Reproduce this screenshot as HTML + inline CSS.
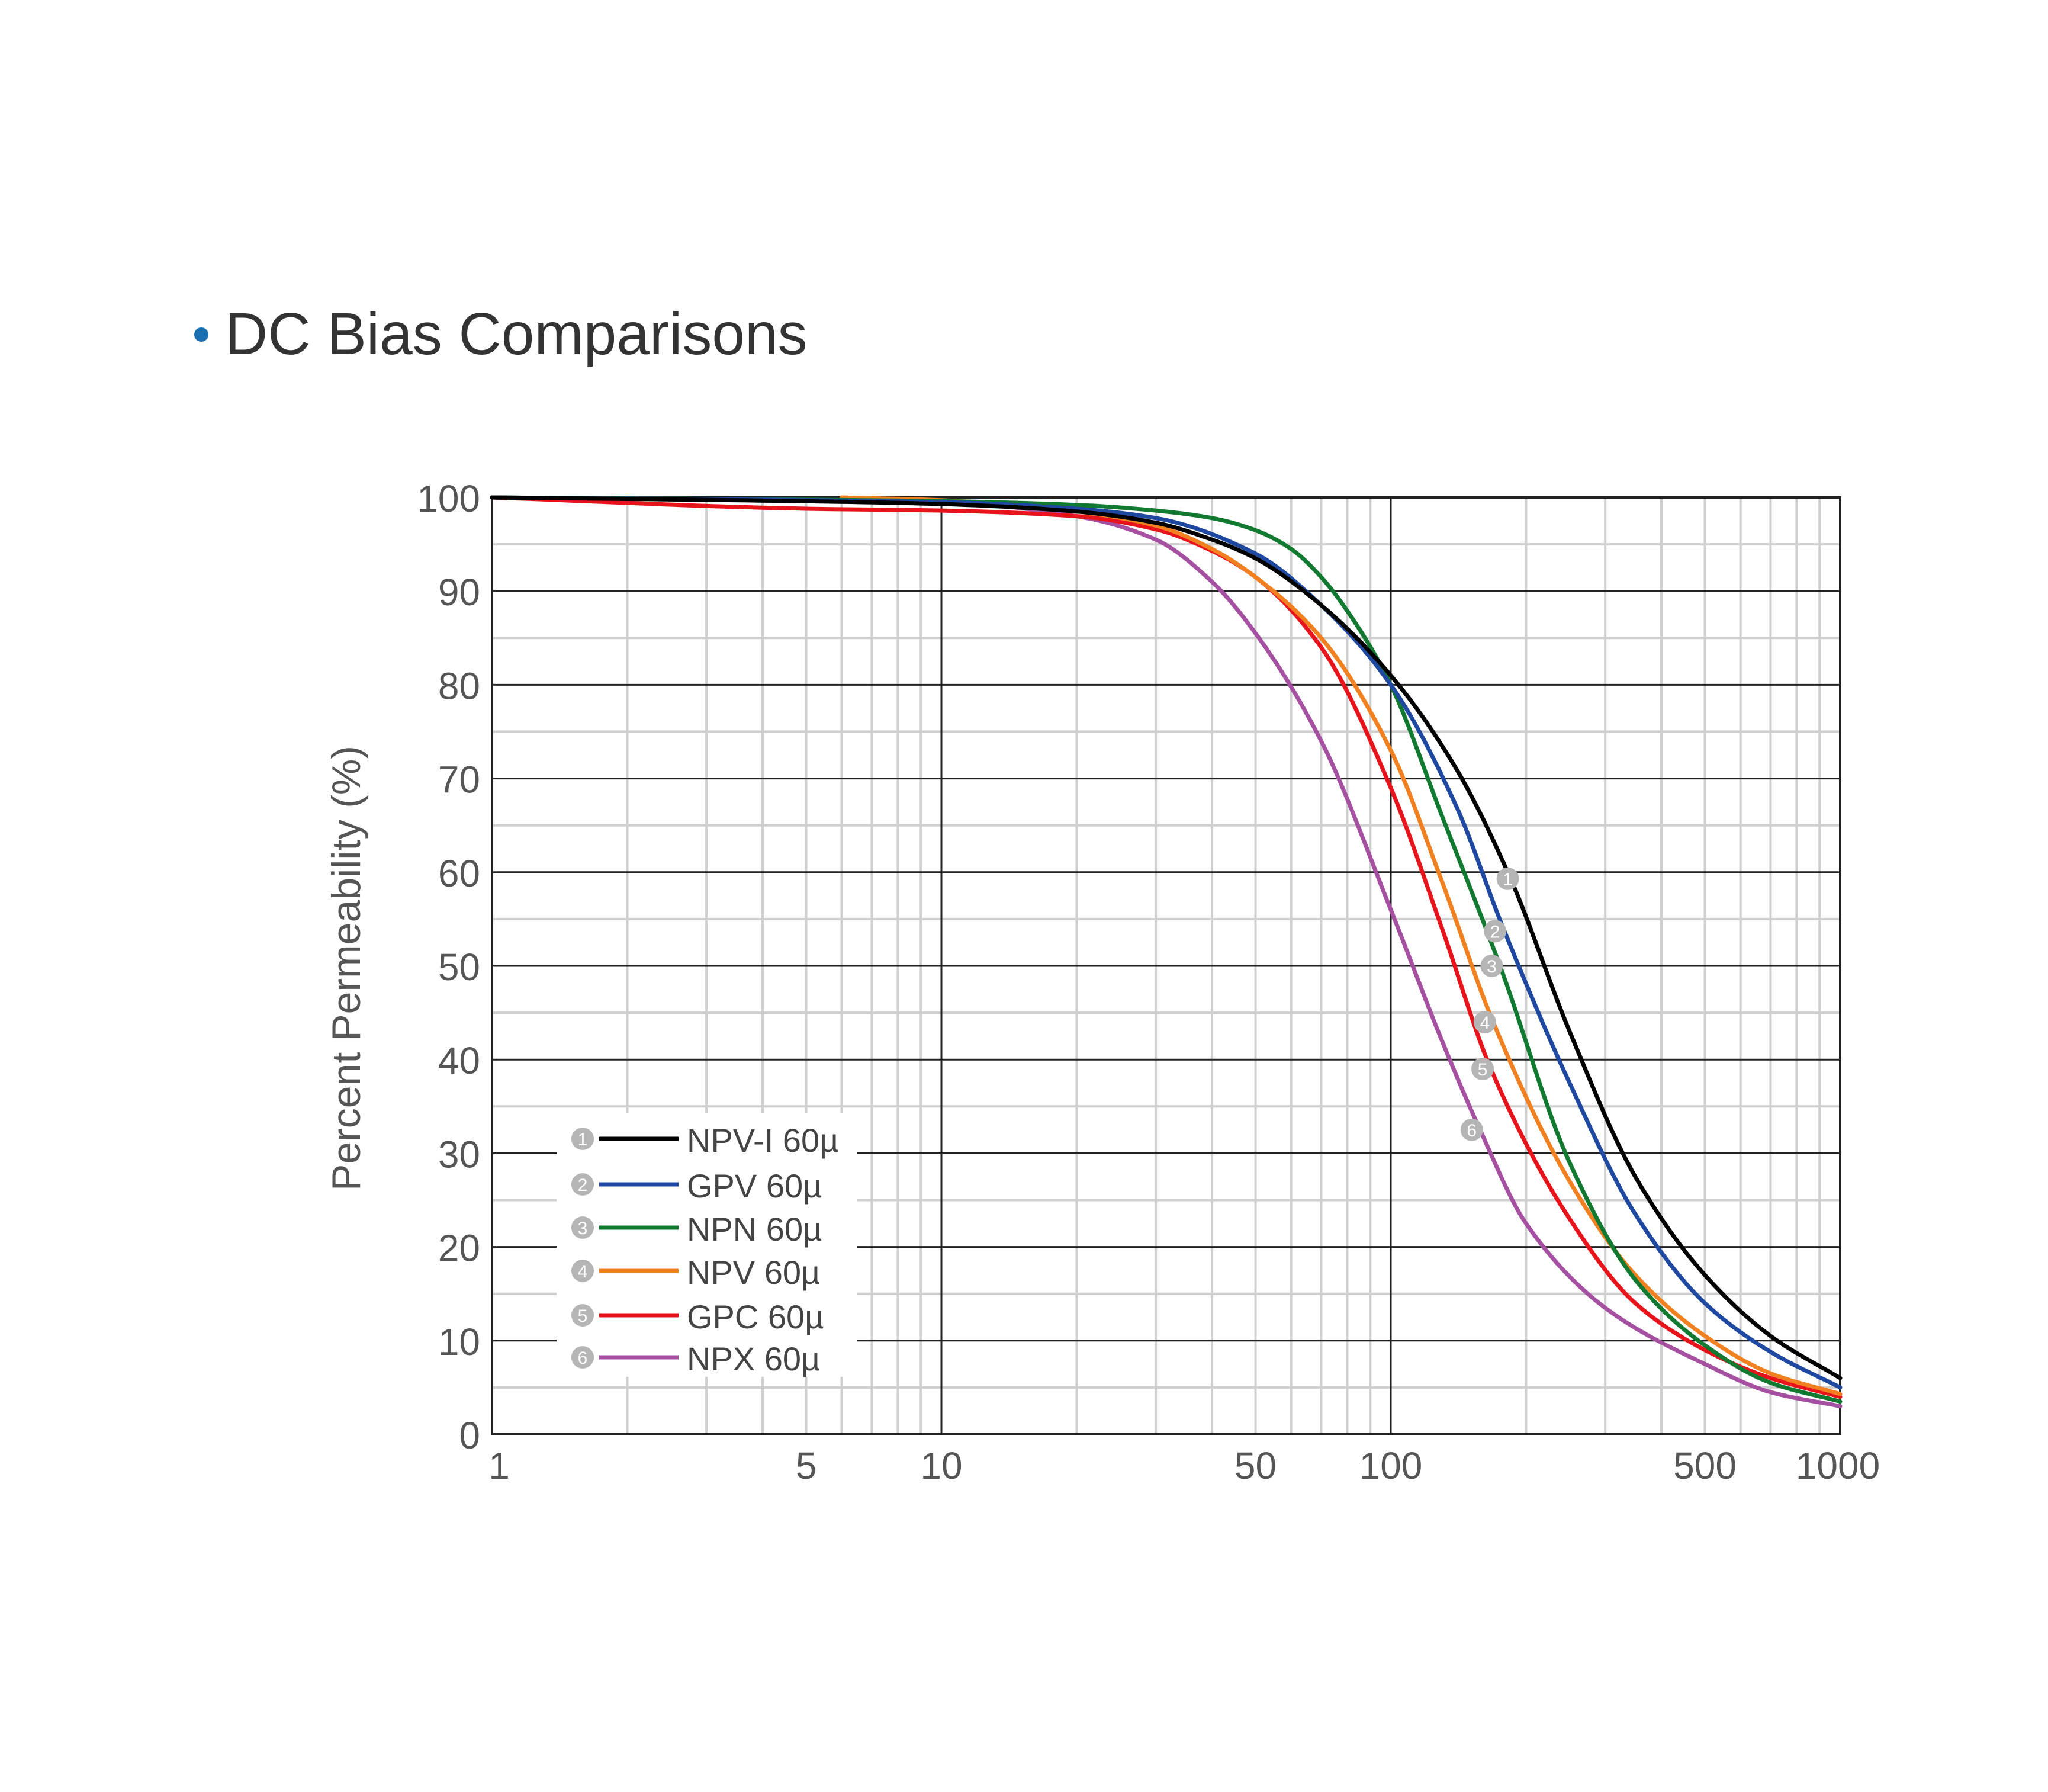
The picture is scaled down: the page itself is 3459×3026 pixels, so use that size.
<!DOCTYPE html>
<html><head><meta charset="utf-8"><style>
html,body{margin:0;padding:0;background:#fff;}
svg{display:block;}
text{font-family:"Liberation Sans",sans-serif;}
</style></head><body>
<svg id="s" width="3459" height="3026" viewBox="0 0 3459 3026" xmlns="http://www.w3.org/2000/svg">
<rect width="3459" height="3026" fill="#fff"/>
<circle cx="340" cy="565" r="12" fill="#1a6fb0"/>
<text x="380" y="598" font-size="100" fill="#333">DC Bias Comparisons</text>
<g id="grid"></g>
<text transform="translate(608,1635) rotate(-90)" text-anchor="middle" font-size="68" fill="#555">Percent Permeability (%)</text>
<g id="ylab" font-size="64" fill="#555" text-anchor="end"></g>
<g id="xlab" font-size="64" fill="#555" text-anchor="middle"></g>
<rect x="940" y="1880" width="508" height="445" fill="#fff"/>
<g id="curves" fill="none" stroke-width="7" stroke-linejoin="round" stroke-linecap="round"></g>
<g id="marks"></g>
<g id="legend"></g>
</svg>
<script>
var NS="http://www.w3.org/2000/svg";
var L=831,R=3108,T=840,B=2422,D=(R-L)/3;
function X(h){return L+D*Math.log10(h);}
function Y(p){return B-(B-T)*p/100;}
function el(t,a,p,txt){var e=document.createElementNS(NS,t);for(var k in a)e.setAttribute(k,a[k]);if(txt!==undefined)e.textContent=txt;p.appendChild(e);return e;}
var g=document.getElementById('grid');
for(var dec=1;dec<1000;dec*=10)for(var m=2;m<=9;m++){var x=X(dec*m);el('line',{x1:x,y1:T,x2:x,y2:B,stroke:'#cfcfcf','stroke-width':4},g);}
for(var p=5;p<100;p+=10){el('line',{x1:L,y1:Y(p),x2:R,y2:Y(p),stroke:'#cfcfcf','stroke-width':4},g);}
for(var p=10;p<100;p+=10){el('line',{x1:L,y1:Y(p),x2:R,y2:Y(p),stroke:'#222','stroke-width':3},g);}
[10,100].forEach(function(h){el('line',{x1:X(h),y1:T,x2:X(h),y2:B,stroke:'#222','stroke-width':3},g);});
el('rect',{x:L,y:T,width:R-L,height:B-T,fill:'none',stroke:'#222','stroke-width':4},g);
var yl=document.getElementById('ylab');
for(var p=0;p<=100;p+=10)el('text',{x:811,y:Y(p)+24},yl,String(p));
var xl=document.getElementById('xlab');
[[1,843],[5,null],[10,null],[50,null],[100,null],[500,null],[1000,3104]].forEach(function(a){el('text',{x:a[1]||X(a[0]),y:2497},xl,String(a[0]));});
var C=[
['#000',[[1,100],[5,99.6],[10,99.3],[20,98.5],[30,97.3],[40,95.5],[50,93.5],[70,88.5],[100,81],[140,71],[184,59.5],[250,43],[350,27.5],[500,17],[700,10.5],[1000,6]]],
['#1f48a0',[[1,100],[10,99.5],[20,98.8],[30,97.8],[50,94],[70,88.5],[100,80],[140,67],[178,54],[250,37.5],[350,23.5],[500,14],[700,8.8],[1000,5]]],
['#127a30',[[1,100],[10,99.6],[20,99.2],[30,98.6],[40,97.8],[50,96.5],[60,94.5],[70,91.5],[85,86],[100,80],[130,66],[175,50],[250,29],[350,16.5],[500,9.5],[700,5.5],[1000,3.5]]],
['#f08020',[[6,100],[10,99.7],[20,98.5],[30,97],[40,94.5],[50,91.5],[70,85],[100,73],[130,59],[169,44],[250,27],[350,17],[500,10.5],[700,6.5],[1000,4.3]]],
['#e8141c',[[1,100],[5,98.8],[10,98.6],[20,98],[30,96.6],[40,94.3],[50,91.5],[70,84],[100,69],[130,54],[167,39],[250,23],[350,14],[500,9],[700,6],[1000,4]]],
['#a550a0',[[1,100],[10,99.5],[20,98],[30,95.5],[40,91],[50,85.5],[70,74],[100,56],[130,42],[158,32.5],[200,22.5],[300,13.5],[500,7.5],[700,4.5],[1000,3]]]
];
function mono(pts){
 var n=pts.length,x=pts.map(function(q){return Math.log10(q[0]);}),y=pts.map(function(q){return q[1];});
 var d=[],m=[];for(var i=0;i<n-1;i++)d.push((y[i+1]-y[i])/(x[i+1]-x[i]));
 m[0]=d[0];m[n-1]=d[n-2];
 for(var i=1;i<n-1;i++){ if(d[i-1]*d[i]<=0)m[i]=0; else {var w1=2*(x[i+1]-x[i])+(x[i]-x[i-1]),w2=(x[i+1]-x[i])+2*(x[i]-x[i-1]);m[i]=(w1+w2)/(w1/d[i-1]+w2/d[i]);} }
 var out=[];
 for(var i=0;i<n-1;i++){var h=x[i+1]-x[i];for(var k=0;k<20;k++){var t=k/20,t2=t*t,t3=t2*t;
  var v=(2*t3-3*t2+1)*y[i]+(t3-2*t2+t)*h*m[i]+(-2*t3+3*t2)*y[i+1]+(t3-t2)*h*m[i+1];
  out.push([L+D*(x[i]+t*h),Y(v)]);}}
 out.push([L+D*x[n-1],Y(y[n-1])]);
 return out;
}
var cg=document.getElementById('curves');
C.slice().reverse().forEach(function(c){
 var P=mono(c[1]);
 el('path',{d:'M'+P.map(function(q){return q[0].toFixed(1)+','+q[1].toFixed(1);}).join(' L'),stroke:c[0]},cg);
});
var mk=document.getElementById('marks');
function badge(x,y,n,par){el('circle',{cx:x,cy:y,r:19,fill:'#b5b5b5'},par);el('text',{x:x,y:y+11,'font-size':30,fill:'#fff','text-anchor':'middle'},par,String(n));}
[[190,59.3],[178,53.7],[175,50],[169,44],[167,39],[158,32.5]].forEach(function(m,i){badge(X(m[0])-14,Y(m[1]),i+1,mk);});
var lg=document.getElementById('legend');
var names=['NPV-I 60µ','GPV 60µ','NPN 60µ','NPV 60µ','GPC 60µ','NPX 60µ'];
var rows=[1923,2000,2073,2146,2221,2292];
rows.forEach(function(y,i){badge(984,y,i+1,lg);el('line',{x1:1012,y1:y,x2:1146,y2:y,stroke:C[i][0],'stroke-width':7},lg);el('text',{x:1160,y:y+22,'font-size':56,fill:'#444'},lg,names[i]);});
</script>
</body></html>
